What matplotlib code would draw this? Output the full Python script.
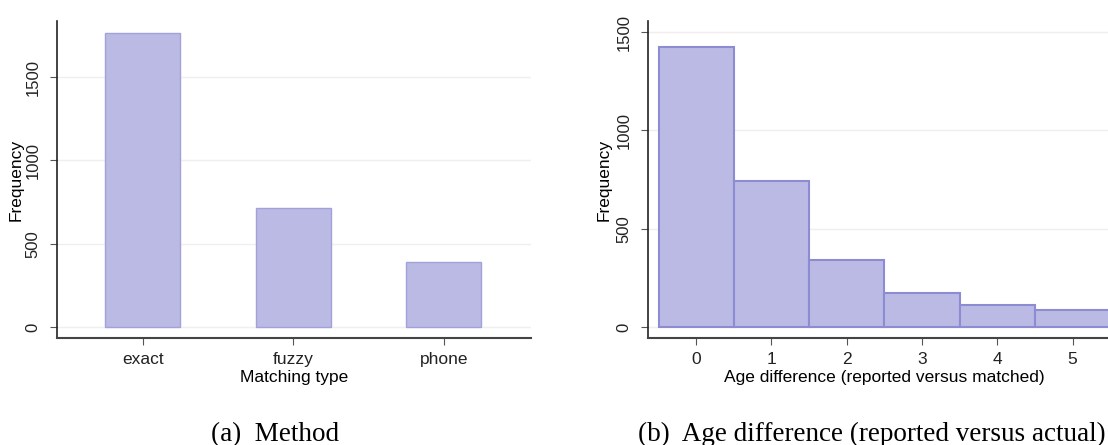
import numpy as np
import matplotlib.pyplot as plt

# Datos
tipos = ["exact", "fuzzy", "phone"]
frec_tipo = [1765, 714, 390]

dif_edad = [0, 1, 2, 3, 4, 5]
frec_edad = [1423, 740, 342, 173, 112, 87]

relleno = "#bbbae4"
borde_a = "#a3a1da"
borde_b = "#8d8bd1"

plt.rcParams['font.family'] = ['Liberation Sans', 'DejaVu Sans']

fig = plt.figure(figsize=(11.08, 4.45), dpi=100)
W, H = 1108, 445


def ejes(x0, x1, ytop, ybot):
    return fig.add_axes([x0 / W, 1 - ybot / H, (x1 - x0) / W, (ybot - ytop) / H])


def estilo(ax, ancho_px, ylab_px):
    for s in ["top", "right"]:
        ax.spines[s].set_visible(False)
    ax.spines["left"].set_color("#222222")
    ax.spines["left"].set_linewidth(1.2)
    ax.spines["bottom"].set_color("#444444")
    ax.spines["bottom"].set_linewidth(1.5)
    ax.tick_params(axis="x", labelsize=12.5, length=5, pad=5, color="#555555", labelcolor="#222222")
    ax.tick_params(axis="y", labelsize=12, length=5, pad=7, color="#555555", labelcolor="#222222")
    ax.grid(True, axis="y", color="#efefef", linewidth=1.0)
    ax.set_axisbelow(True)
    ax.set_yticks([0, 500, 1000, 1500])
    for lbl in ax.get_yticklabels():
        lbl.set_rotation(90)
        lbl.set_va("center")
    ax.set_ylabel("Frequency", fontsize=12.5)
    ax.yaxis.set_label_coords(-ylab_px / ancho_px, 0.5)


# (a) metodo
ax1 = ejes(57, 531, 21, 338)
x = np.arange(len(tipos))
ax1.bar(x, frec_tipo, width=0.5, color=relleno, edgecolor=borde_a, linewidth=1.0)
ax1.set_xlim(-0.57, 2.58)
ax1.set_ylim(-66, 1837)
ax1.set_xticks(x)
ax1.set_xticklabels(tipos)
estilo(ax1, 474, 33)
ax1.set_xlabel("Matching type", fontsize=12.5, labelpad=2)

# (b) diferencia de edad
ax2 = ejes(648, 1120, 21, 338)
ax2.bar(dif_edad, frec_edad, width=1.0, color=relleno, edgecolor=borde_b, linewidth=1.5)
ax2.set_xlim(-0.64, 5.63)
ax2.set_ylim(-56, 1556)
ax2.set_xticks(dif_edad)
estilo(ax2, 472, 36)
ax2.set_xlabel("Age difference (reported versus matched)", fontsize=12.5, labelpad=2)

fig.text(275 / W, 1 - 441 / H, "(a)  Method", ha="center", va="baseline",
         fontsize=19.5, family="Liberation Serif")
fig.text(1106 / W, 1 - 441 / H, "(b)  Age difference (reported versus actual)", ha="right",
         va="baseline", fontsize=19.5, family="Liberation Serif")

fig.savefig("out.png", dpi=100)
